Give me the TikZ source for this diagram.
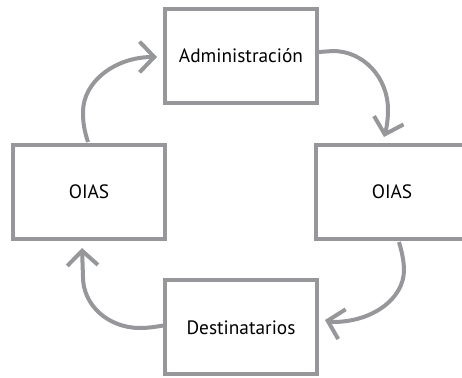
\documentclass[tikz,border=0pt]{standalone}
\usepackage{fontspec}
\setmainfont{PT Sans}
\usetikzlibrary{arrows.meta,calc}
\definecolor{linegray}{RGB}{150,151,154}
\begin{document}
\begin{tikzpicture}[x=0.75pt,y=-0.75pt,
  box/.style={draw=linegray, line width=3pt, fill=white, minimum width=114pt, minimum height=70.5pt, inner sep=0pt, font=\fontsize{14.5}{16}\selectfont},
  flow/.style={draw=linegray, line width=3pt, -{Straight Barb[length=11pt,width=23pt,line width=3pt]}}]
\useasboundingbox (0,0) rectangle (462,378);
\node[box] (T) at (241,56) {Administración};
\node[box] (L) at (89,192) {OIAS};
\node[box] (R) at (392,192) {OIAS};
\node[box] (B) at (241,327.5) {Destinatarios};
% arrow 1: left -> top
\draw[flow] ($(L.north)+(-1,-1)$) .. controls (84,130) and (83,122) .. (83,112)
  .. controls (83,81.6) and (115.3,57) .. ($(T.west)+(-6,1)$);
% arrow 2: top -> right
\draw[flow] ($(T.east)+(0,-4)$) -- (333,51)
  .. controls (363,51) and (388,77) .. (388,110)
  .. controls (388,122) and (386,130) .. ($(R.north)+(-8,-6)$);
% arrow 3: right -> bottom
\draw[flow] ($(R.south)+(7,1)$) .. controls (402,252) and (404,262) .. (404,270)
  .. controls (404,299) and (372,322) .. (333,322) -- ($(B.east)+(6,-7.5)$);
% arrow 4: bottom -> left
\draw[flow] ($(B.west)+(0,-2)$) .. controls (155,327) and (148,328) .. (140,328)
  .. controls (108,328) and (83,305) .. (83,277) -- ($(L.south)+(-7,7)$);
\end{tikzpicture}
\end{document}
